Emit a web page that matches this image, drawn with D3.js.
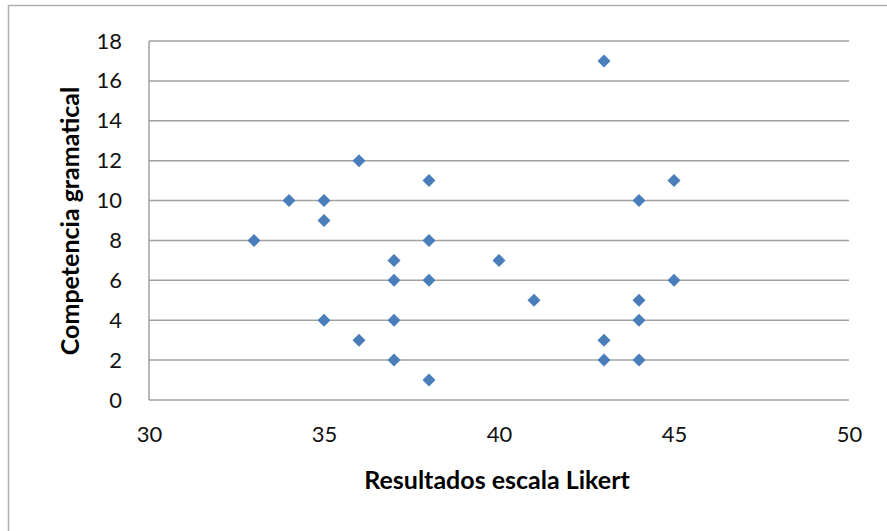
<!DOCTYPE html>
<html><head><meta charset="utf-8">
<script src="https://cdn.jsdelivr.net/npm/d3@7"></script>
<style>body{margin:0;background:#fff;} text{font-family:Lato,"Open Sans",sans-serif;}</style>
</head><body>
<svg id="c" width="887" height="531"></svg>
<script>
const likert = [43,36,38,45,34,35,44,35,33,38,37,40,37,38,45,41,44,35,37,44,36,43,37,43,44,38];
const gramatical = [17,12,11,11,10,10,10,9,8,8,7,7,6,6,6,5,5,4,4,4,3,3,2,2,2,1];
const xTicks = [30,35,40,45,50];
const yTicks = [0,2,4,6,8,10,12,14,16,18];
const xTitle = "Resultados escala Likert";
const yTitle = "Competencia gramatical";

const svg = d3.select("#c");
svg.append("rect").attr("x",8.5).attr("y",5.5).attr("width",900).attr("height",600)
  .attr("fill","none").attr("stroke","#b0b0b0").attr("stroke-width",1.5);

const x = d3.scaleLinear().domain([30,50]).range([149,849]);
const y = d3.scaleLinear().domain([0,18]).range([400,41]);

const g = svg.append("g");
g.selectAll("line.grid").data(yTicks).join("line")
  .attr("x1",x(30)).attr("x2",x(50)).attr("y1",d=>y(d)).attr("y2",d=>y(d))
  .attr("stroke","#a0a0a0").attr("stroke-width",1.5);
g.append("line").attr("x1",x(30)).attr("x2",x(30)).attr("y1",y(18)).attr("y2",y(0))
  .attr("stroke","#a0a0a0").attr("stroke-width",1.5);

const yAxis = svg.append("g").attr("transform",`translate(${x(30)},0)`)
  .call(d3.axisLeft(y).tickValues(yTicks).tickSize(0).tickPadding(27));
yAxis.select(".domain").remove();
yAxis.selectAll("text").attr("font-size",22).attr("fill","#111").attr("font-family","Lato,sans-serif");

const xAxis = svg.append("g").attr("transform",`translate(0,${y(0)})`)
  .call(d3.axisBottom(x).tickValues(xTicks).tickSize(0).tickPadding(26));
xAxis.select(".domain").remove();
xAxis.selectAll("text").attr("font-size",22).attr("fill","#111").attr("font-family","Lato,sans-serif");

svg.append("text").attr("x",497).attr("y",489).attr("text-anchor","middle")
  .attr("font-size",25).attr("font-weight","bold").attr("fill","#000").text(xTitle);
svg.append("text").attr("transform","translate(79,221) rotate(-90)").attr("text-anchor","middle")
  .attr("font-size",25).attr("font-weight","bold").attr("fill","#000").text(yTitle);

const h = 6.5;
svg.append("g").selectAll("path").data(likert.map((v,i)=>[v,gramatical[i]])).join("path")
  .attr("d",`M0,${-h}L${h},0L0,${h}L${-h},0Z`)
  .attr("transform",d=>`translate(${x(d[0])},${y(d[1])})`)
  .attr("fill","#4a7ebb");
</script>
</body></html>
